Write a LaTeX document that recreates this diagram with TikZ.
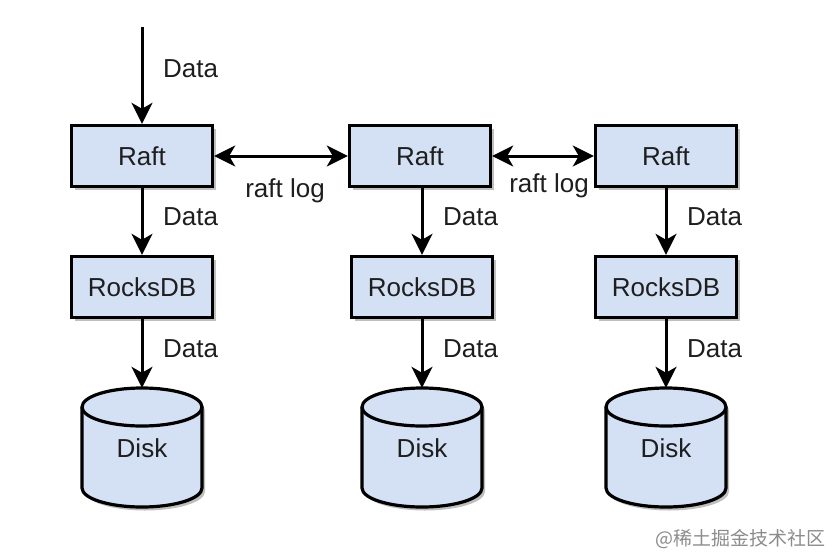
\documentclass[tikz,border=0pt]{standalone}
\usepackage{fontspec}
\setmainfont{Liberation Sans}
\newfontfamily\cjkfont{Noto Sans CJK SC}
\usetikzlibrary{arrows.meta,shadows}
\definecolor{boxfill}{RGB}{212,225,245}
\definecolor{txt}{RGB}{30,30,30}
\begin{document}
\begin{tikzpicture}[x=1pt,y=-1pt,
  box/.style={draw=black, line width=3.4pt, fill=boxfill, minimum width=141pt, minimum height=61pt,
    inner sep=0pt, text=txt, font=\fontsize{26}{28}\selectfont,
    drop shadow={shadow xshift=3pt, shadow yshift=-3.5pt, fill=black, opacity=0.25}},
  diskslot/.style={minimum width=120pt, minimum height=119pt, inner sep=0pt},
  lbl/.style={text=txt, font=\fontsize{26}{28}\selectfont, inner sep=0pt},
  conn/.style={line width=3pt, -{Stealth[length=21pt,width=21pt,inset=6pt]}},
  biconn/.style={line width=3pt, {Stealth[length=21pt,width=21pt,inset=6pt]}-{Stealth[length=21pt,width=21pt,inset=6pt]}},
  cyl/.style={draw=black, line width=3.2pt, fill=boxfill,
    drop shadow={shadow xshift=3pt, shadow yshift=-3.5pt, fill=black, opacity=0.25}}
]
\useasboundingbox (0,0) rectangle (832,554);
\fill[white] (0,0) rectangle (832,554);

% nodes
\node[box] (r1) at (142,156) {Raft};
\node[box] (r2) at (420,156) {Raft};
\node[box] (r3) at (666,156) {Raft};
\node[box] (k1) at (142,287) {RocksDB};
\node[box] (k2) at (422,287) {RocksDB};
\node[box] (k3) at (666,287) {RocksDB};

% disks
\foreach \n/\x in {d1/142,d2/422,d3/666}{
  \node[diskslot] (\n) at (\x,447.5) {};
  \path[cyl] (\x-60,407) -- (\x-60,488)
     arc[start angle=180,end angle=360,x radius=60pt,y radius=19pt]
     -- (\x+60,407)
     arc[start angle=0,end angle=180,x radius=60pt,y radius=19pt] -- cycle;
  \draw[line width=3.2pt] (\x-60,407)
     arc[start angle=180,end angle=360,x radius=60pt,y radius=19pt];
  \node[lbl] at (\x,448) {Disk};
}

% input
\coordinate (in) at (142,27);
\draw[conn] (in) -- (r1.north);
\node[lbl, anchor=west] (l0) at (163,69) {Data};

% vertical connectors
\draw[conn] (r1.south) -- (k1.north);
\draw[conn] (r2.south -| k2.north) -- (k2.north);
\draw[conn] (r3.south) -- (k3.north);
\draw[conn] (k1.south) -- (d1.north);
\draw[conn] (k2.south) -- (d2.north);
\draw[conn] (k3.south) -- (d3.north);

\node[lbl, anchor=west] (l1) at (163,217) {Data};
\node[lbl, anchor=west] (l2) at (443,217) {Data};
\node[lbl, anchor=west] (l3) at (687,217) {Data};
\node[lbl, anchor=west] (l4) at (163,349) {Data};
\node[lbl, anchor=west] (l5) at (443,349) {Data};
\node[lbl, anchor=west] (l6) at (687,349) {Data};

% raft log
\draw[biconn] (r1.east) -- (r2.west);
\draw[biconn] (r2.east) -- (r3.west);
\node[lbl] (g1) at (285,191) {raft log};
\node[lbl] (g2) at (549,186) {raft log};

% watermark
\node[anchor=east, inner sep=0pt, text={rgb,255:red,140;green,140;blue,140},
  font=\cjkfont\fontsize{19}{21}\selectfont] (wm) at (826,539) {@稀土掘金技术社区};
\end{tikzpicture}
\end{document}
